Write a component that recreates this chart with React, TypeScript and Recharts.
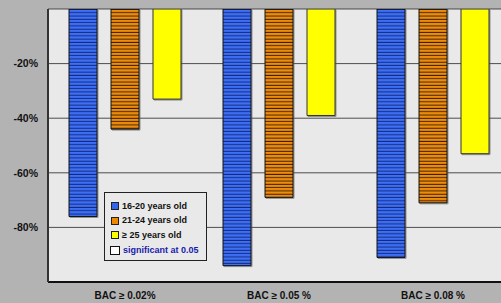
import React from 'react';
import { BarChart, Bar, XAxis, YAxis, CartesianGrid, Legend } from 'recharts';

const categories = ['BAC ≥ 0.02%', 'BAC ≥ 0.05 %', 'BAC ≥ 0.08 %'];
const age1620 = [-76, -94, -91];
const age2124 = [-44, -69, -71];
const age25plus = [-33, -39, -53];
const yTicks = [0, -20, -40, -60, -80, -100];

const data = categories.map((name, i) => ({
  name,
  a: age1620[i],
  b: age2124[i],
  c: age25plus[i],
}));

const legendItems = [
  { label: '16-20 years old', color: '#3366ee' },
  { label: '21-24 years old', color: '#ee8800' },
  { label: '≥ 25 years old', color: '#ffff00' },
];

const FONT = 'Arial, "Liberation Sans", sans-serif';

const LegendBox = () => (
  <div
    style={{
      width: 103,
      height: 69,
      border: '1px solid #222',
      background: '#e9e9e9',
      boxSizing: 'border-box',
      fontFamily: FONT,
      fontWeight: 'bold',
      fontSize: 9,
      lineHeight: '11px',
      color: '#111',
      padding: '6px 0 0 5px',
    }}
  >
    {legendItems.map((it) => (
      <div key={it.label} style={{ display: 'flex', alignItems: 'center', height: 14.5 }}>
        <span
          style={{
            display: 'inline-block',
            width: 6,
            height: 6,
            background: it.color,
            border: '1px solid #222',
            marginRight: 3,
            marginLeft: 1,
          }}
        />
        <span>{it.label}</span>
      </div>
    ))}
    <div style={{ display: 'flex', alignItems: 'center', height: 15 }}>
      <span
        style={{
          display: 'inline-block',
          width: 8,
          height: 7,
          background: '#fff',
          border: '1.5px solid #111',
          marginRight: 3,
        }}
      />
      <span style={{ color: '#1a1aaa' }}>significant at 0.05</span>
    </div>
  </div>
);

const fmt = (v: number) => (v === 0 || v === -100 ? '' : `${v}%`);

const XTick = (props: any) => {
  const { x, y, payload } = props;
  return (
    <text x={x} y={y + 17} textAnchor="middle" fill="#111" fontSize={10} fontWeight="bold" fontFamily={FONT}>
      {payload.value}
    </text>
  );
};

export default function App() {
  return (
    <div
      style={{
        position: 'fixed',
        top: 0,
        left: 0,
        width: 501,
        height: 303,
        overflow: 'hidden',
        background: '#b3b3b3',
      }}
    >
      <BarChart
        width={510}
        height={303}
        data={data}
        margin={{ top: 9, right: 0, bottom: 0, left: 0 }}
        barSize={28}
        barGap={14}
        style={{ background: '#b3b3b3' }}
      >
        <defs>
          <pattern id="blueStripe" patternUnits="userSpaceOnUse" width="4" height="3.3">
            <rect width="4" height="3.3" fill="#3d6ff4" />
            <rect y="2.3" width="4" height="1" fill="#142a80" />
          </pattern>
          <pattern id="orangeStripe" patternUnits="userSpaceOnUse" width="4" height="3.3">
            <rect width="4" height="3.3" fill="#f08c0c" />
            <rect y="2.3" width="4" height="1" fill="#3a2200" />
          </pattern>
          <filter id="shadow" x="-20%" y="-5%" width="140%" height="110%">
            <feDropShadow dx="1" dy="1" stdDeviation="0.6" floodColor="#555" floodOpacity="0.6" />
          </filter>
        </defs>
        <CartesianGrid vertical={false} stroke="#333" strokeOpacity={0.85} fill="#e9e9e9" />
        <XAxis
          dataKey="name"
          axisLine={{ stroke: '#111', strokeWidth: 2 }}
          tickLine={false}
          tickSize={0}
          tickMargin={0}
          height={21}
          tick={<XTick />}
          interval={0}
        />
        <YAxis
          domain={[-100, 0]}
          ticks={yTicks}
          tickFormatter={fmt}
          width={48}
          axisLine={{ stroke: '#333', strokeWidth: 2 }}
          tickLine={false}
          tickSize={0}
          tickMargin={10}
          tick={{ fill: '#111', fontSize: 10.5, fontWeight: 'bold', fontFamily: FONT }}
          allowDataOverflow
        />
        <Legend
          content={<LegendBox />}
          layout="vertical"
          verticalAlign="middle"
          align="center"
          wrapperStyle={{ left: 104, top: 192, width: 103, height: 69 }}
        />
        <Bar dataKey="a" fill="url(#blueStripe)" stroke="#111" strokeWidth={1} isAnimationActive={false} filter="url(#shadow)" />
        <Bar dataKey="b" fill="url(#orangeStripe)" stroke="#111" strokeWidth={1} isAnimationActive={false} filter="url(#shadow)" />
        <Bar dataKey="c" fill="#ffff00" stroke="#333" strokeWidth={1} isAnimationActive={false} filter="url(#shadow)" />
      </BarChart>
    </div>
  );
}
